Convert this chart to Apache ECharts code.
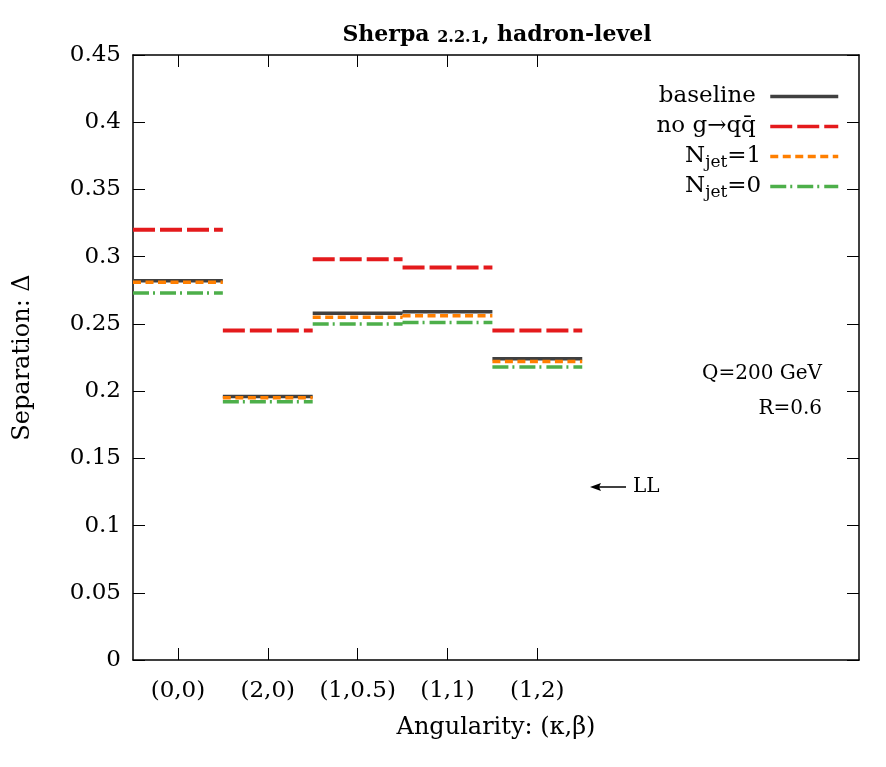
<!DOCTYPE html>
<html><head><meta charset="utf-8">
<script src="https://cdn.jsdelivr.net/npm/echarts@6/dist/echarts.min.js"></script>
<style>html,body{margin:0;padding:0;background:#fff}#c{width:886px;height:767px}</style>
</head><body><div id="c"></div>
<script>
const categories = ['(0,0)', '(2,0)', '(1,0.5)', '(1,1)', '(1,2)'];
const catPos = [0.5, 1.5, 2.5, 3.5, 4.5];
const baseline = [0.282, 0.196, 0.258, 0.259, 0.224];
const noGqq = [0.320, 0.245, 0.298, 0.292, 0.245];
const njet1 = [0.281, 0.195, 0.255, 0.256, 0.222];
const njet0 = [0.273, 0.192, 0.250, 0.251, 0.218];
const yTicks = [0, 0.05, 0.1, 0.15, 0.2, 0.25, 0.3, 0.35, 0.4, 0.45];

const FONT = '"DejaVu Serif",serif';

function seg(vals) {
  const d = [];
  vals.forEach((v, i) => {
    d.push([catPos[i] - 0.5, v], [catPos[i] + 0.5, v]);
    if (i < vals.length - 1) d.push([catPos[i] + 0.5, '-']);
  });
  return d;
}

const chart = echarts.init(document.getElementById('c'), null, {renderer: 'canvas'});
const xMax = 8.08;
const axisLine = {onZero: false, lineStyle: {color: '#000', width: 1.5}};
const tick = {show: true, inside: true, length: 12, lineStyle: {color: '#000', width: 1}};
const option = {
  backgroundColor: '#fff',
  animation: false,
  title: {
    text: '{b|Sherpa }{s|2.2.1}{b|, hadron-level}',
    left: 492, top: 19, textAlign: 'center',
    textStyle: {rich: {
      b: {fontFamily: FONT, fontWeight: 'bold', fontSize: 22, color: '#000'},
      s: {fontFamily: FONT, fontWeight: 'bold', fontSize: 16, color: '#000', padding: [5, 0, 0, 0]}
    }}
  },
  grid: {left: 133, right: 27, top: 55, bottom: 107},
  xAxis: [{
    type: 'value', min: 0, max: xMax, position: 'bottom',
    name: 'Angularity: (κ,β)', nameLocation: 'middle', nameGap: 56,
    nameTextStyle: {fontFamily: FONT, fontSize: 24, color: '#000'},
    axisLine, splitLine: {show: false},
    axisTick: {...tick, customValues: catPos},
    axisLabel: {show: true, customValues: catPos, margin: 20, fontFamily: FONT, fontSize: 23, color: '#000',
      formatter: v => { const i = catPos.indexOf(v); return i >= 0 ? categories[i] : ''; }}
  }, {
    type: 'value', min: 0, max: xMax, position: 'top',
    axisLine, splitLine: {show: false},
    axisTick: {...tick, customValues: catPos},
    axisLabel: {show: false}
  }],
  yAxis: [{
    type: 'value', min: 0, max: 0.45, interval: 0.05, position: 'left',
    name: 'Separation: Δ', nameLocation: 'middle', nameGap: 98, nameRotate: 90,
    nameTextStyle: {fontFamily: FONT, fontSize: 24, color: '#000'},
    axisLine, splitLine: {show: false},
    axisTick: tick,
    axisLabel: {show: true, margin: 12, fontFamily: FONT, fontSize: 23, color: '#000',
      formatter: v => { const t = yTicks.find(x => Math.abs(x - v) < 1e-9); return t === undefined ? '' : String(+t.toFixed(2)); }}
  }, {
    type: 'value', min: 0, max: 0.45, interval: 0.05, position: 'right',
    axisLine, splitLine: {show: false},
    axisTick: tick,
    axisLabel: {show: false}
  }],
  legend: {
    orient: 'vertical', right: 41, top: 80, align: 'right',
    itemWidth: 68, itemHeight: 14, itemGap: 4,
    itemStyle: {opacity: 0},
    lineStyle: {width: 3.5},
    textStyle: {fontFamily: FONT, fontSize: 23, color: '#000', rich: {
      n: {fontFamily: FONT, fontSize: 23, color: '#000'},
      s: {fontFamily: FONT, fontSize: 17, color: '#000', padding: [12, 0, 0, 0]},
      g: {width: 4}
    }},
    formatter: name => {
      if (name.startsWith('N_jet')) return '{n|N}{s|jet}{n|' + name.slice(5) + '}{g|}';
      return '{n|' + name + '}{s| }{g|}';
    },
    data: ['baseline', 'no g→qq\u0304', 'N_jet=1', 'N_jet=0']
  },
  graphic: [
    {type: 'text', right: 64, top: 364, style: {text: 'Q=200 GeV', font: '20px ' + FONT, fill: '#000', textAlign: 'right'}},
    {type: 'text', right: 64, top: 399, style: {text: 'R=0.6', font: '20px ' + FONT, fill: '#000', textAlign: 'right'}},
    {type: 'line', shape: {x1: 598, y1: 487, x2: 626, y2: 487}, style: {stroke: '#000', lineWidth: 1.5}},
    {type: 'polygon', shape: {points: [[590, 487], [601, 483], [599, 487], [601, 491]]}, style: {fill: '#000'}},
    {type: 'text', left: 633, top: 477, style: {text: 'LL', font: '20px ' + FONT, fill: '#000'}}
  ],
  series: [
    {name: 'baseline', type: 'line', data: seg(baseline), symbol: 'none', connectNulls: false,
      lineStyle: {color: '#404040', width: 3.5}, itemStyle: {color: '#404040'}},
    {name: 'no g→qq\u0304', type: 'line', data: seg(noGqq), symbol: 'none', connectNulls: false,
      lineStyle: {color: '#e41a1c', width: 4, type: [22, 5]}, itemStyle: {color: '#e41a1c'}},
    {name: 'N_jet=1', type: 'line', data: seg(njet1), symbol: 'none', connectNulls: false,
      lineStyle: {color: '#ff7f00', width: 3.5, type: [8, 4.5]}, itemStyle: {color: '#ff7f00'}},
    {name: 'N_jet=0', type: 'line', data: seg(njet0), symbol: 'none', connectNulls: false,
      lineStyle: {color: '#4daf4a', width: 3.5, type: [16, 4, 2, 5]}, itemStyle: {color: '#4daf4a'}}
  ]
};
chart.setOption(option);
</script></body></html>
